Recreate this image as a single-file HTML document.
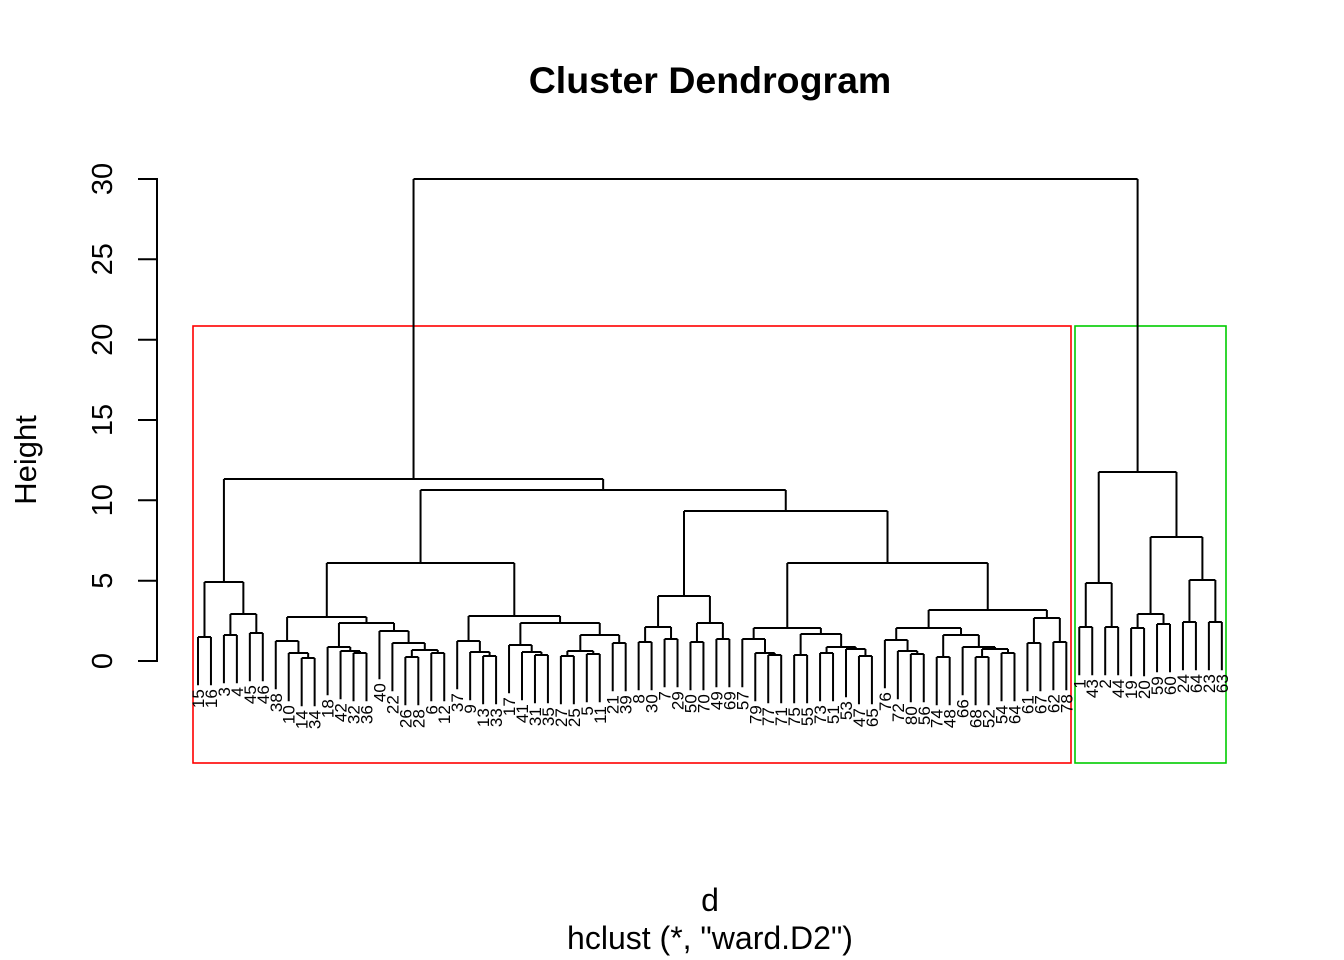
<!DOCTYPE html>
<html><head><meta charset="utf-8"><style>
html,body{margin:0;padding:0;background:#fff;}
svg{display:block;font-family:"Liberation Sans",Arial,sans-serif;}
</style></head><body>
<svg id="s" width="1344" height="960" xmlns="http://www.w3.org/2000/svg">
<rect width="1344" height="960" fill="#fff"/>
<text x="710" y="93" text-anchor="middle" font-size="37.5" font-weight="bold">Cluster Dendrogram</text>
<text x="710" y="911" text-anchor="middle" font-size="32">d</text>
<text x="710" y="949" text-anchor="middle" font-size="32">hclust (*, "ward.D2")</text>
<text transform="translate(36,460) rotate(-90)" text-anchor="middle" font-size="31">Height</text>
<g stroke="#000" stroke-width="2" fill="none">
<line x1="157" y1="178" x2="157" y2="662"/>
<line x1="138" y1="661" x2="157" y2="661"/>
<line x1="138" y1="580.7" x2="157" y2="580.7"/>
<line x1="138" y1="500.3" x2="157" y2="500.3"/>
<line x1="138" y1="420" x2="157" y2="420"/>
<line x1="138" y1="339.7" x2="157" y2="339.7"/>
<line x1="138" y1="259.3" x2="157" y2="259.3"/>
<line x1="138" y1="179" x2="157" y2="179"/>
</g>
<g font-size="29" text-anchor="middle">
<text transform="translate(112,661) rotate(-90)">0</text>
<text transform="translate(112,580.7) rotate(-90)">5</text>
<text transform="translate(112,500.3) rotate(-90)">10</text>
<text transform="translate(112,420) rotate(-90)">15</text>
<text transform="translate(112,339.7) rotate(-90)">20</text>
<text transform="translate(112,259.3) rotate(-90)">25</text>
<text transform="translate(112,179) rotate(-90)">30</text>
</g>
<rect x="193" y="326" width="878" height="437" fill="none" stroke="#f00" stroke-width="1.6"/>
<rect x="1075" y="326" width="151" height="437" fill="none" stroke="#0c0" stroke-width="1.6"/>
<g id="tree" stroke="#000" stroke-width="2" fill="none"></g>
<g id="labs" font-size="17" text-anchor="end"></g>
</svg>
<script>
var labels=[15,16,3,4,45,46,38,10,14,34,18,42,32,36,40,22,26,28,6,12,37,9,13,33,17,41,31,35,27,25,5,11,21,39,8,30,7,29,50,70,49,69,57,79,77,71,75,55,73,51,53,47,65,58,76,72,80,56,74,48,66,68,52,54,64,61,67,62,78,1,43,2,44,19,20,59,60,24,64,23,63];
labels.splice(53,1);
function X(i){return 198+12.96*i;}
var A=[0,1,637],B=[[2,3,635],[4,5,633],614],C1=[A,B,582];
var D=[6,[7,[8,9,658],653],641];
var E=[10,[11,[12,13,653],651],647];
var F=[14,[15,[[16,17,657],[18,19,653],650],643],631];
var G=[D,[E,F,623],617];
var H1=[20,[21,[22,23,656],652],641];
var I=[24,[25,[26,27,655],652],645];
var J=[[[28,29,656],[30,31,654],651],[32,33,643],635];
var H=[H1,[I,J,623],616];
var K=[G,H,563];
var L=[[[34,35,642],[36,37,639],627],[[38,39,642],[40,41,639],623],596];
var M=[42,[43,[44,45,655],653],639];
var N=[[46,47,655],[[48,49,653],[50,[51,52,656],649],647],634];
var O1=[53,[54,[55,56,654],651],640];
var O2=[[57,58,657],[59,[[60,61,657],[62,63,653],649],647],635];
var P=[[O1,O2,628],[[64,65,643],[66,67,642],618],610];
var Q=[[M,N,628],P,563];
var R=[L,Q,511];
var LEFT=[C1,[K,R,490],479];
var GR=[[[68,69,627],[70,71,627],583],[[[72,73,628],[74,75,624],614],[[76,77,622],[78,79,622],580],537],472];
var ROOT=[LEFT,GR,179];
var ns="http://www.w3.org/2000/svg",tg=document.getElementById("tree"),lg=document.getElementById("labs");
var d="";
function draw(n,py){
  if(typeof n==="number"){
    var x=X(n),b=py+48.2;
    d+="M"+x+" "+py+"V"+b;
    var t=document.createElementNS(ns,"text");
    t.setAttribute("transform","translate("+(x+6)+","+(b+4)+") rotate(-90)");
    t.textContent=labels[n];lg.appendChild(t);
    return x;
  }
  var y=n[2];
  var xl=draw(n[0],y),xr=draw(n[1],y);
  d+="M"+xl+" "+y+"H"+xr;
  var c=(xl+xr)/2;
  if(py!==null)d+="M"+c+" "+y+"V"+py;
  return c;
}
draw(ROOT,null);
var p=document.createElementNS(ns,"path");p.setAttribute("d",d);tg.appendChild(p);
</script>
</body></html>
